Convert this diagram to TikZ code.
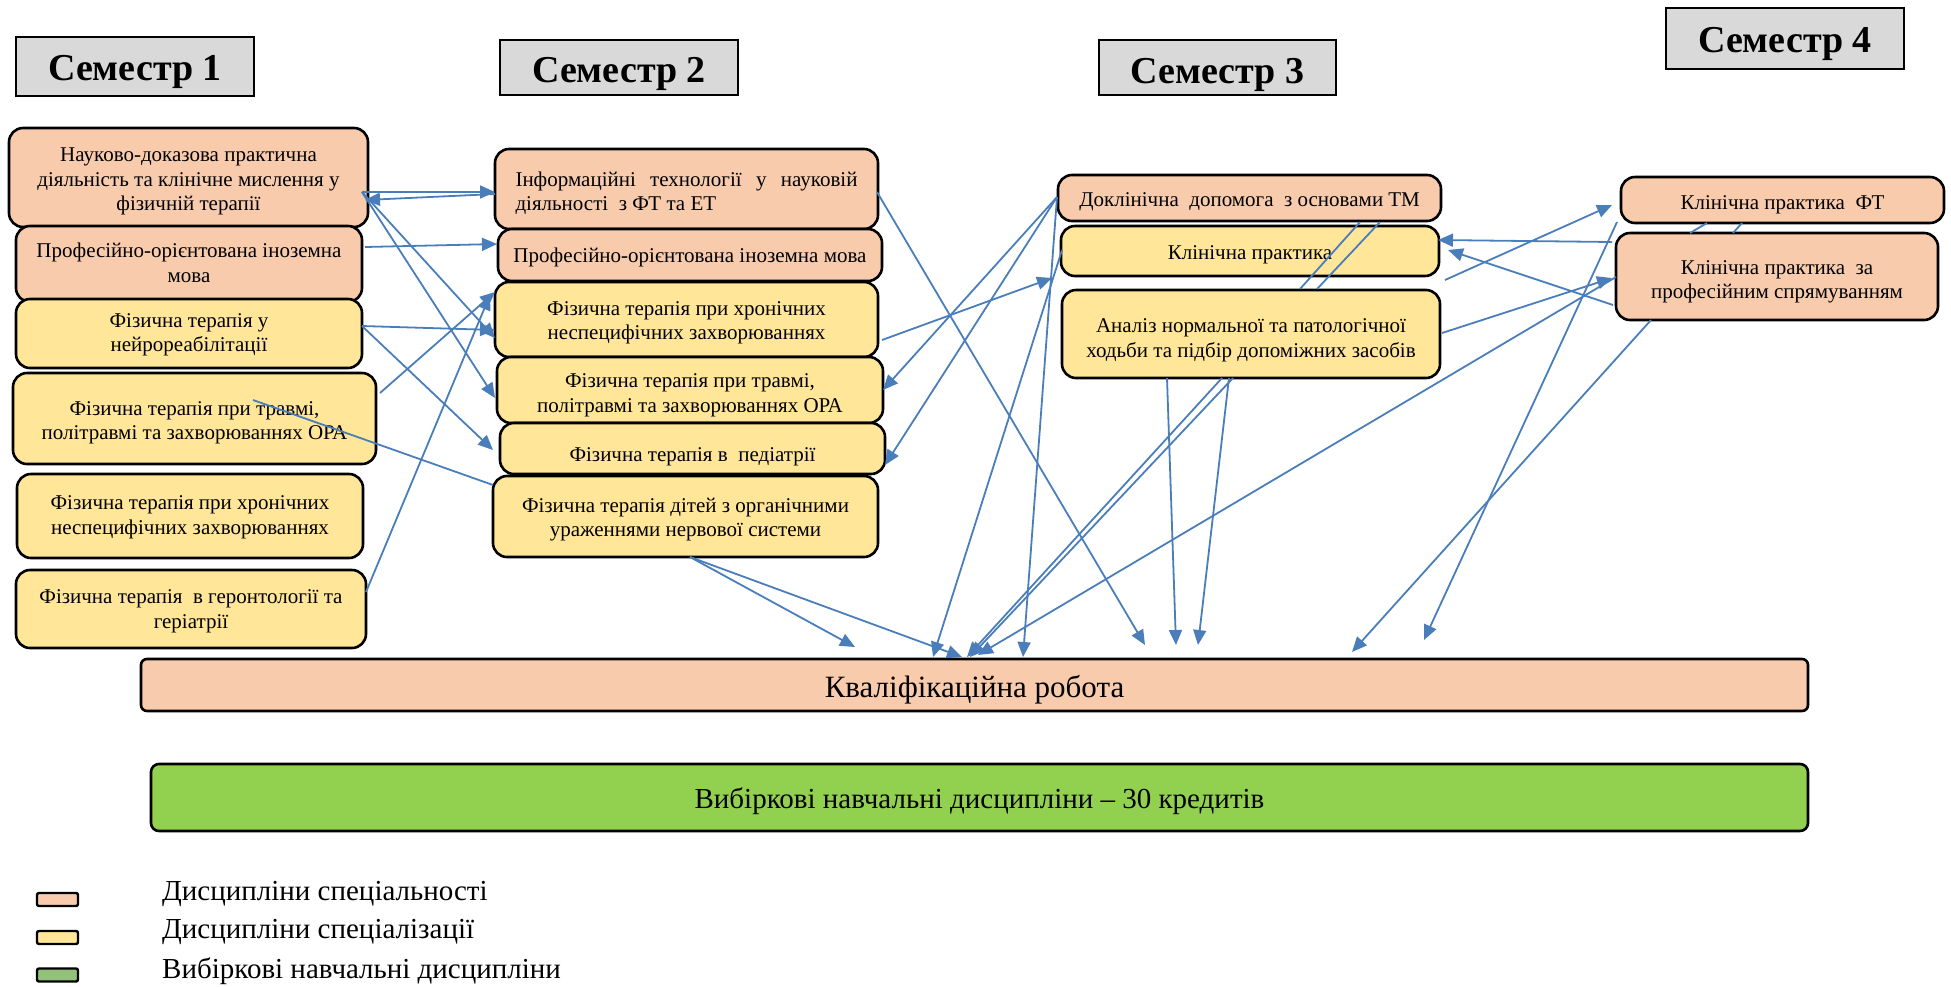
\documentclass[tikz,border=0pt]{standalone}
\usepackage{fontspec}
\setmainfont{Liberation Serif}
\usetikzlibrary{arrows.meta,calc}
\definecolor{peach}{HTML}{F8CBAD}
\definecolor{yellowc}{HTML}{FFE699}
\definecolor{greenc}{HTML}{92D050}
\definecolor{greenl}{HTML}{92C17A}
\definecolor{grayc}{HTML}{D9D9D9}
\definecolor{arrowc}{HTML}{4A7EBB}
\newcommand{\tx}[2][4pt]{\raisebox{-#1}[\height][\depth]{\begin{tabular}{@{}c@{}}#2\end{tabular}}}
\begin{document}
\begin{tikzpicture}[x=1pt,y=-1pt,
  box/.style={draw, line width=2.6pt, rounded corners=14pt, align=center, inner sep=0pt, outer sep=0pt, font=\fontsize{21}{24.5}\selectfont},
  pk/.style={box, fill=peach},
  yl/.style={box, fill=yellowc},
  hdr/.style={draw, line width=2.6pt, fill=grayc, inner sep=0pt, outer sep=0pt, font=\fontsize{38}{40}\selectfont\bfseries},
  arr/.style={draw=arrowc, line width=1.8pt, -{Triangle[length=15pt,width=13pt]}},
  ln/.style={draw=arrowc, line width=1.8pt},
  leg/.style={draw, line width=2.4pt, rounded corners=2pt, minimum width=41pt, minimum height=13pt, inner sep=0pt},
  legt/.style={anchor=west, inner sep=0pt, font=\fontsize{29}{32}\selectfont}
]
\useasboundingbox (0,0) rectangle (1951,986);

% headers
\node[hdr, minimum width=238pt, minimum height=59pt] (H1) at (135,66.5) {\tx[6pt]{Семестр 1}};
\node[hdr, minimum width=238pt, minimum height=55pt] (H2) at (619,67.5) {\tx[7pt]{Семестр 2}};
\node[hdr, minimum width=237pt, minimum height=55pt] (H3) at (1217.5,67.5) {\tx[8pt]{Семестр 3}};
\node[hdr, minimum width=238pt, minimum height=61pt] (H4) at (1785,38.5) {\tx[6pt]{Семестр 4}};

% semester 1
\node[pk, minimum width=359pt, minimum height=99pt] (A1) at (188.5,177.5) {\tx[4pt]{Науково-доказова практична\\діяльність та клінічне мислення у\\фізичній терапії}};
\node[pk, minimum width=346pt, minimum height=76pt] (A2) at (189,264) {\tx[1pt]{Професійно-орієнтована іноземна\\мова}};
\node[yl, minimum width=346pt, minimum height=69pt] (A3) at (189,333.5) {\tx[1pt]{Фізична терапія у\\нейрореабілітації}};
\node[yl, minimum width=363pt, minimum height=91pt] (A4) at (194.5,418.5) {\tx[4pt]{Фізична терапія при травмі,\\політравмі та захворюваннях ОРА}};
\node[yl, minimum width=346pt, minimum height=84pt] (A5) at (190,516) {\tx[1pt]{Фізична терапія при хронічних\\неспецифічних захворюваннях}};
\node[yl, minimum width=350pt, minimum height=78pt] (A6) at (191,609) {\tx[2pt]{Фізична терапія~ в геронтології та\\геріатрії}};

% semester 2
\node[pk, minimum width=383pt, minimum height=80pt] (B1) at (686.5,189) {\raisebox{-4pt}[\height][\depth]{\parbox{342pt}{Інформаційні\hfill технології\hfill у\hfill науковій\\діяльності~ з ФТ та ЕТ}}};
\node[pk, minimum width=384pt, minimum height=52pt] (B2) at (690,255) {\tx[3pt]{Професійно-орієнтована іноземна мова}};
\node[yl, minimum width=383pt, minimum height=75pt] (B3) at (686.5,319.5) {\tx[3pt]{Фізична терапія при хронічних\\неспецифічних захворюваннях}};
\node[yl, minimum width=386pt, minimum height=66pt] (B4) at (690,390) {\tx[5pt]{Фізична терапія при травмі,\\політравмі та захворюваннях ОРА}};
\node[yl, minimum width=385pt, minimum height=51pt] (B5) at (692.5,448.5) {\tx[8pt]{Фізична терапія в~ педіатрії}};
\node[yl, minimum width=385pt, minimum height=81pt] (B6) at (685.5,516.5) {\tx[3pt]{Фізична терапія дітей з органічними\\ураженнями нервової системи}};

% semester 3
\node[pk, minimum width=383pt, minimum height=46pt] (C1) at (1249.5,198) {\tx[4pt]{Доклінічна~ допомога~ з основами ТМ}};
\node[yl, minimum width=378pt, minimum height=50pt] (C2) at (1250,251) {\tx[4pt]{Клінічна практика}};
\node[yl, minimum width=378pt, minimum height=88pt] (C3) at (1251,334) {\tx[6pt]{Аналіз нормальної та патологічної\\ходьби та підбір допоміжних засобів}};

% semester 4
\node[pk, minimum width=323pt, minimum height=46pt] (D1) at (1782.5,200) {\tx[5pt]{Клінічна практика~ ФТ}};
\node[pk, minimum width=322pt, minimum height=87pt] (D2) at (1777,276.5) {\tx[5pt]{Клінічна практика~ за\\професійним спрямуванням}};

% bottom bars
\node[pk, rounded corners=6pt, minimum width=1667pt, minimum height=52pt, font=\fontsize{31}{33}\selectfont] (K) at (974.5,685) {\tx[6pt]{Кваліфікаційна робота}};
\node[box, fill=greenc, rounded corners=8pt, minimum width=1657pt, minimum height=67pt, font=\fontsize{29}{31}\selectfont] (V) at (979.5,797.5) {\tx[5pt]{Вибіркові навчальні дисципліни – 30 кредитів}};

% legend
\node[leg, fill=peach] (L1) at (57.5,899.5) {};
\node[leg, fill=yellowc] (L2) at (57.5,937.5) {};
\node[leg, fill=greenl] (L3) at (57.5,975) {};
\node[legt] (L1t) at (162,894) {Дисципліни спеціальності};
\node[legt] (L2t) at (162,932) {Дисципліни спеціалізації};
\node[legt] (L3t) at (162,971) {Вибіркові навчальні дисципліни};

% connectors semester 1 -> 2
\draw[arr] ([xshift=-6pt,yshift=-14.5pt]A1.east) -- ([yshift=-3pt]B1.west);
\draw[arr] ([yshift=-5pt]B1.west) -- ([xshift=-3pt,yshift=-22.5pt]A1.east);
\draw[arr] ([xshift=3pt,yshift=17pt]A2.east) -- ([xshift=-1pt,yshift=11pt]B2.west);
\draw[arr] ([xshift=-6pt,yshift=-14.5pt]A1.east) -- ([yshift=-18.5pt]B3.west);
\draw[arr] ([xshift=-6pt,yshift=-14.5pt]A1.east) -- ([xshift=-2pt,yshift=-8pt]B4.west);
\draw[arr] ([yshift=7.5pt]A3.east) -- ([yshift=-10.5pt]B3.west);
\draw[arr] ([yshift=7.5pt]A3.east) -- ([xshift=-7pt,yshift=-1.5pt]B5.west);
\draw[arr] ([xshift=4pt,yshift=25.5pt]A4.east) -- ([yshift=27.5pt]B3.west);
\draw[arr] ([yshift=17pt]A6.east) -- ([xshift=-5pt,yshift=24.5pt]B3.west);
\draw[ln] ([yshift=31.5pt]B6.west) -- ([xshift=58.5pt,yshift=18.5pt]A4.center);

% semester 2 -> others
\draw[arr] ([xshift=-1pt,yshift=-3pt]B1.east) -- ([xshift=170.5pt,yshift=14pt]K.north);
\draw[arr] ([xshift=4.5pt]B6.south) -- ([xshift=-119.5pt,yshift=12pt]K.north);
\draw[arr] ([xshift=4.5pt]B6.south) -- ([xshift=-12.5pt,yshift=2pt]K.north);
\draw[arr] ([xshift=4pt,yshift=-20.5pt]B3.east) -- ([xshift=-9pt,yshift=-27pt]C2.west);

% semester 3
\draw[arr] ([xshift=-1pt,yshift=1pt]C1.west) -- (B4.east);
\draw[arr] ([xshift=-1pt,yshift=1pt]C1.west) -- ([yshift=-16.5pt]B5.east);
\draw[arr] ([xshift=-1pt,yshift=1pt]C1.west) -- ([xshift=48.5pt,yshift=2pt]K.north);
\draw[arr] ([xshift=1pt,yshift=1pt]C2.west) -- ([xshift=-41.5pt,yshift=2pt]K.north);
\draw[ln] ([xshift=110.5pt,yshift=-1pt]C1.south) -- ([xshift=49pt,yshift=1pt]C3.north);
\draw[arr] ([xshift=-29pt]C3.south) -- ([xshift=-7.5pt,yshift=2pt]K.north);
\draw[ln] ([xshift=130.5pt,yshift=-1pt]C1.south) -- ([xshift=66pt,yshift=1pt]C3.north);
\draw[arr] ([xshift=-18pt]C3.south) -- ([xshift=-4.5pt,yshift=2pt]K.north);
\draw[arr] ([xshift=-84pt]C3.south) -- ([xshift=201.5pt,yshift=14pt]K.north);
\draw[arr] ([xshift=-22pt]C3.south) -- ([xshift=223.5pt,yshift=14pt]K.north);
\draw[arr] ([xshift=6pt,yshift=-29pt]C2.east) -- ([xshift=-9pt,yshift=-5pt]D1.west);
\draw[arr] ([xshift=2pt,yshift=1pt]C3.east) -- ([xshift=-4pt,yshift=-1.5pt]D2.west);

% semester 4
\draw[arr] ([xshift=-4pt,yshift=34.5pt]D2.west) -- ([xshift=-1pt,yshift=11pt]C2.east);
\draw[arr] ([xshift=-3pt,yshift=-28.5pt]D2.west) -- ([xshift=9pt,yshift=1pt]C2.east);
\draw[ln] ([xshift=-75.5pt]D1.south) -- ([xshift=-87pt]D2.north);
\draw[arr] ([yshift=-0.5pt]D2.west) -- ([xshift=3.5pt,yshift=4pt]K.north);
\draw[arr] ([xshift=-165.5pt,yshift=1pt]D1.south) -- ([xshift=449.5pt,yshift=19pt]K.north);
\draw[ln] ([xshift=-40.5pt]D1.south) -- ([xshift=-44pt]D2.north);
\draw[arr] ([xshift=-126pt]D2.south) -- ([xshift=377.5pt,yshift=7pt]K.north);
\end{tikzpicture}
\end{document}
